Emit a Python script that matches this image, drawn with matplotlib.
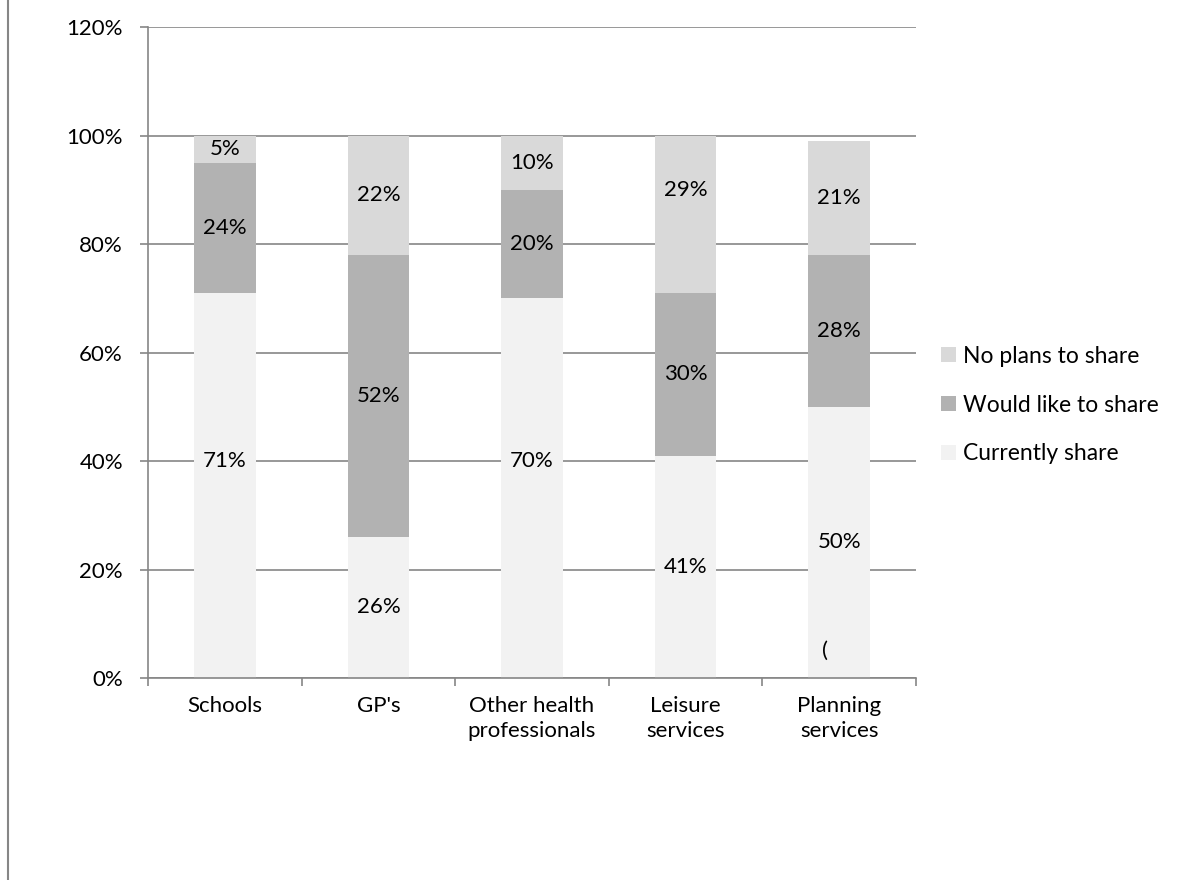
import matplotlib.pyplot as plt
from matplotlib.lines import Line2D
from matplotlib.patches import Patch
import numpy as np

plt.rcParams['font.family'] = ['Lato', 'DejaVu Sans']

categorias = ["Schools", "GP's", "Other health\nprofessionals", "Leisure\nservices", "Planning\nservices"]
currently_share = [71, 26, 70, 41, 50]
would_like = [24, 52, 20, 30, 28]
no_plans = [5, 22, 10, 29, 21]

series = [("Currently share", currently_share, '#F2F2F2'),
          ("Would like to share", would_like, '#B2B2B2'),
          ("No plans to share", no_plans, '#D9D9D9')]

# labels that sit off the segment centre: (serie, categoria) -> y
posicion_etiqueta = {(0, 0): 40, (0, 2): 40, (2, 3): 90}

fs = 16

fig = plt.figure(figsize=(11.85, 8.8), dpi=100)
ax = fig.add_axes([148/1185, 1 - 678/880, 768/1185, 651/880])

x = np.arange(len(categorias))
base = np.zeros(len(categorias))
for s, (nombre, vals, color) in enumerate(series):
    vals = np.array(vals, dtype=float)
    ax.bar(x, vals, width=0.4, bottom=base, color=color, zorder=2)
    for i, (xi, b, v) in enumerate(zip(x, base, vals)):
        y = posicion_etiqueta.get((s, i), b + v / 2)
        ax.text(xi, y, f"{int(v)}%", ha='center', va='center', fontsize=fs, zorder=3)
    base += vals

# stray character inside the last bar
ax.text(x[-1] - 0.09, 5, "(", ha='center', va='center', fontsize=fs, zorder=3)

ax.set_xlim(-0.5, len(categorias) - 0.5)
ax.set_ylim(0, 120)
ax.set_yticks(range(0, 121, 20))
ax.set_yticklabels([f"{v}%" for v in range(0, 121, 20)], fontsize=fs)
ax.yaxis.grid(True, color='#868686', linewidth=1.2, zorder=0)
ax.set_axisbelow(True)

ax.set_xticks(x)
ax.set_xticklabels(categorias, fontsize=fs, linespacing=1.3)
ax.tick_params(axis='x', length=0, pad=13)
ax.set_xticks(np.arange(-0.5, len(categorias), 1), minor=True)
ax.tick_params(axis='x', which='minor', length=6, color='#868686', width=1.2)
ax.tick_params(axis='y', length=6, color='#868686', width=1.2, pad=12)

for lado in ['top', 'right']:
    ax.spines[lado].set_visible(False)
for lado in ['left', 'bottom']:
    ax.spines[lado].set_color('#868686')
    ax.spines[lado].set_linewidth(1.2)

handles = [Patch(facecolor=c, label=n) for n, _, c in reversed(series)]
fig.legend(handles=handles, loc='center left', bbox_to_anchor=(941/1185, 1 - 405/880),
           frameon=False, fontsize=16.5, handlelength=0.65, handleheight=0.65,
           handletextpad=0.3, labelspacing=1.22, borderpad=0, borderaxespad=0)

# chart area border, only the left edge shows
fig.add_artist(Line2D([8/1185, 8/1185], [0, 1], color='#868686', linewidth=1.5))

fig.savefig('out.png', dpi=100)
